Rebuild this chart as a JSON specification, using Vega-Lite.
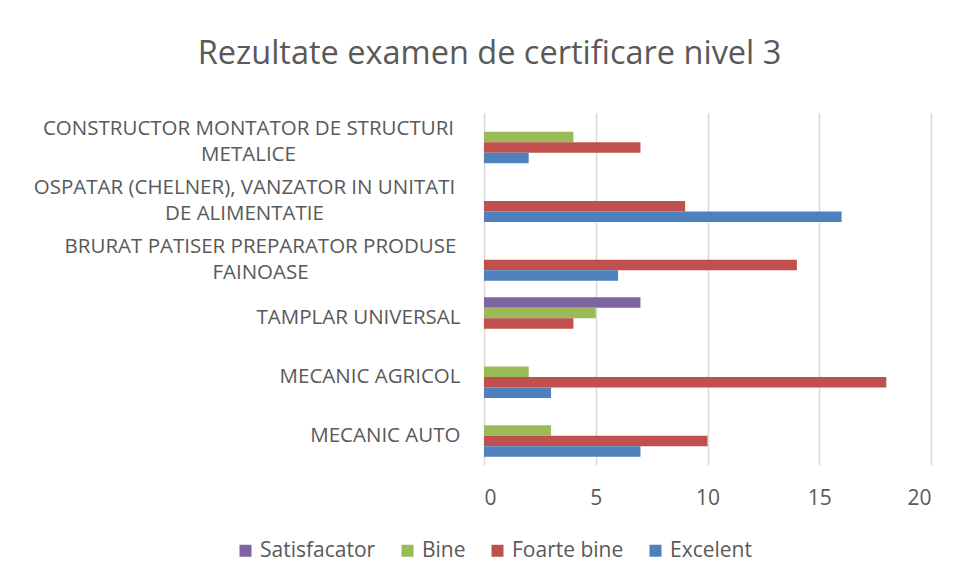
{
  "$schema": "https://vega.github.io/schema/vega-lite/v6.json",
  "autosize": {"type": "none"},
  "width": 447,
  "height": 352,
  "padding": {"left": 484, "top": 113, "right": 29, "bottom": 118},
  "background": "white",
  "title": {
    "text": "Rezultate examen de certificare nivel 3",
    "anchor": "middle",
    "frame": "group",
    "dx": -218,
    "offset": 43,
    "font": "Open Sans",
    "fontSize": 32.5,
    "fontWeight": "normal",
    "color": "#595959"
  },
  "data": {
    "values": [
      {"meserie": "CONSTRUCTOR MONTATOR DE STRUCTURI METALICE", "calificativ": "Bine", "numar": 4},
      {"meserie": "CONSTRUCTOR MONTATOR DE STRUCTURI METALICE", "calificativ": "Foarte bine", "numar": 7},
      {"meserie": "CONSTRUCTOR MONTATOR DE STRUCTURI METALICE", "calificativ": "Excelent", "numar": 2},
      {"meserie": "OSPATAR (CHELNER), VANZATOR IN UNITATI DE ALIMENTATIE", "calificativ": "Foarte bine", "numar": 9},
      {"meserie": "OSPATAR (CHELNER), VANZATOR IN UNITATI DE ALIMENTATIE", "calificativ": "Excelent", "numar": 16},
      {"meserie": "BRURAT PATISER PREPARATOR PRODUSE FAINOASE", "calificativ": "Foarte bine", "numar": 14},
      {"meserie": "BRURAT PATISER PREPARATOR PRODUSE FAINOASE", "calificativ": "Excelent", "numar": 6},
      {"meserie": "TAMPLAR UNIVERSAL", "calificativ": "Satisfacator", "numar": 7},
      {"meserie": "TAMPLAR UNIVERSAL", "calificativ": "Bine", "numar": 5},
      {"meserie": "TAMPLAR UNIVERSAL", "calificativ": "Foarte bine", "numar": 4},
      {"meserie": "MECANIC AGRICOL", "calificativ": "Bine", "numar": 2},
      {"meserie": "MECANIC AGRICOL", "calificativ": "Foarte bine", "numar": 18},
      {"meserie": "MECANIC AGRICOL", "calificativ": "Excelent", "numar": 3},
      {"meserie": "MECANIC AUTO", "calificativ": "Bine", "numar": 3},
      {"meserie": "MECANIC AUTO", "calificativ": "Foarte bine", "numar": 10},
      {"meserie": "MECANIC AUTO", "calificativ": "Excelent", "numar": 7}
    ]
  },
  "mark": {"type": "bar"},
  "encoding": {
    "y": {
      "field": "meserie",
      "type": "nominal",
      "sort": [
        "CONSTRUCTOR MONTATOR DE STRUCTURI METALICE",
        "OSPATAR (CHELNER), VANZATOR IN UNITATI DE ALIMENTATIE",
        "BRURAT PATISER PREPARATOR PRODUSE FAINOASE",
        "TAMPLAR UNIVERSAL",
        "MECANIC AGRICOL",
        "MECANIC AUTO"
      ],
      "scale": {"paddingInner": 0.284, "paddingOuter": 0.142},
      "axis": {
        "title": null,
        "domain": false,
        "ticks": false,
        "labelFont": "Open Sans",
        "labelFontSize": 20.5,
        "labelColor": "#595959",
        "labelLimit": 600,
        "labelLineHeight": 26,
        "labelAlign": {
          "condition": {"test": "datum.value == 'CONSTRUCTOR MONTATOR DE STRUCTURI METALICE' || datum.value == 'OSPATAR (CHELNER), VANZATOR IN UNITATI DE ALIMENTATIE' || datum.value == 'BRURAT PATISER PREPARATOR PRODUSE FAINOASE'", "value": "center"},
          "value": "right"
        },
        "labelPadding": {
          "condition": [
            {"test": "datum.value == 'CONSTRUCTOR MONTATOR DE STRUCTURI METALICE'", "value": 236},
            {"test": "datum.value == 'OSPATAR (CHELNER), VANZATOR IN UNITATI DE ALIMENTATIE'", "value": 240},
            {"test": "datum.value == 'BRURAT PATISER PREPARATOR PRODUSE FAINOASE'", "value": 224}
          ],
          "value": 24
        },
        "labelOffset": {
          "condition": {"test": "datum.value == 'CONSTRUCTOR MONTATOR DE STRUCTURI METALICE' || datum.value == 'OSPATAR (CHELNER), VANZATOR IN UNITATI DE ALIMENTATIE' || datum.value == 'BRURAT PATISER PREPARATOR PRODUSE FAINOASE'", "value": -13},
          "value": 0
        },
        "labelExpr": "datum.label == 'CONSTRUCTOR MONTATOR DE STRUCTURI METALICE' ? ['CONSTRUCTOR MONTATOR DE STRUCTURI', 'METALICE'] : datum.label == 'OSPATAR (CHELNER), VANZATOR IN UNITATI DE ALIMENTATIE' ? ['OSPATAR (CHELNER), VANZATOR IN UNITATI', 'DE ALIMENTATIE'] : datum.label == 'BRURAT PATISER PREPARATOR PRODUSE FAINOASE' ? ['BRURAT PATISER PREPARATOR PRODUSE', 'FAINOASE'] : datum.label"
      }
    },
    "yOffset": {
      "field": "calificativ",
      "type": "nominal",
      "sort": ["Satisfacator", "Bine", "Foarte bine", "Excelent"],
      "scale": {"paddingInner": 0, "paddingOuter": 0}
    },
    "x": {
      "field": "numar",
      "type": "quantitative",
      "scale": {"domain": [0, 20], "nice": false},
      "axis": {
        "title": null,
        "values": [0, 5, 10, 15, 20],
        "domain": false,
        "ticks": false,
        "grid": true,
        "gridColor": "#d9d9d9",
        "gridWidth": 1.5,
        "labelPadding": 22,
        "labelFont": "Open Sans",
        "labelFontSize": 21,
        "labelColor": "#595959"
      }
    },
    "color": {
      "field": "calificativ",
      "type": "nominal",
      "sort": ["Satisfacator", "Bine", "Foarte bine", "Excelent"],
      "scale": {
        "domain": ["Satisfacator", "Bine", "Foarte bine", "Excelent"],
        "range": ["#8064A2", "#9BBB59", "#C0504D", "#4F81BD"]
      },
      "legend": {
        "title": null,
        "orient": "none",
        "direction": "horizontal",
        "legendX": -249,
        "legendY": 427,
        "symbolType": "square",
        "symbolSize": 144,
        "symbolStrokeWidth": 0,
        "symbolOpacity": 1,
        "labelFont": "Open Sans",
        "labelFontSize": 21,
        "labelColor": "#595959",
        "labelOffset": 4,
        "columnPadding": 21
      }
    }
  },
  "config": {
    "view": {"stroke": null}
  }
}
